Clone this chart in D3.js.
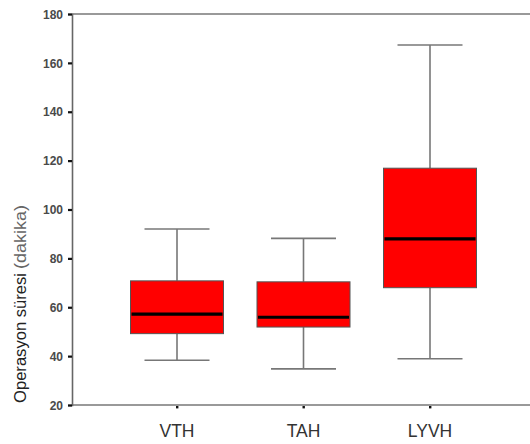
<!DOCTYPE html>
<html><head><meta charset="utf-8">
<script src="https://cdn.jsdelivr.net/npm/d3@7/dist/d3.min.js"></script>
<style>body{margin:0;background:#fff}svg{display:block}</style>
</head><body>
<script>
const categories = ["VTH","TAH","LYVH"];
const mins    = [38.3, 34.8, 38.9];
const q1s     = [49.2, 51.9, 68.0];
const medians = [57.2, 55.9, 88.0];
const q3s     = [70.8, 70.4, 116.9];
const maxs    = [92.0, 88.2, 167.3];
const yTicks  = [20,40,60,80,100,120,140,160,180];

const W = 530, H = 444;
const svg = d3.select("body").append("svg").attr("width", W).attr("height", H);

const y = d3.scaleLinear().domain([20,180]).range([405,14]);
const x = d3.scalePoint().domain(categories).range([177,430]);
const left = 72, right = 530;
const boxW = 93, capW = 65;

// frame lines
svg.append("line").attr("x1",left).attr("x2",right).attr("y1",y(180)).attr("y2",y(180))
  .attr("stroke","#777").attr("stroke-width",1.6);
svg.append("line").attr("x1",left).attr("x2",right).attr("y1",y(20)).attr("y2",y(20))
  .attr("stroke","#777").attr("stroke-width",1.6);

// y axis
const ya = svg.append("g").attr("transform",`translate(${left},0)`)
  .call(d3.axisLeft(y).tickValues(yTicks).tickSize(4).tickPadding(5).tickFormat(d3.format("d")));
ya.select(".domain").attr("stroke","#666").attr("stroke-width",1.6);
ya.selectAll(".tick line").attr("stroke","#111").attr("stroke-width",2.2);
ya.selectAll(".tick text").attr("fill","#4a4a4a").attr("font-family","Liberation Sans, Arial, sans-serif")
  .attr("font-size",12).attr("font-weight","bold").attr("dy","0.35em");

// x ticks (dots) and labels
const data = categories.map((c,i)=>({c,min:mins[i],q1:q1s[i],med:medians[i],q3:q3s[i],max:maxs[i]}));
svg.selectAll(".xdot").data(data).enter().append("rect")
  .attr("x",d=>x(d.c)-1).attr("y",y(20)+1).attr("width",2.4).attr("height",2.4).attr("fill","#111");
svg.selectAll(".xlab").data(data).enter().append("text")
  .attr("x",d=>x(d.c)).attr("y",437).attr("text-anchor","middle")
  .attr("font-family","Liberation Sans, Arial, sans-serif").attr("font-size",17.5).attr("fill","#333")
  .text(d=>d.c);

// boxes
const g = svg.selectAll(".box").data(data).enter().append("g");
g.append("line").attr("x1",d=>x(d.c)).attr("x2",d=>x(d.c)).attr("y1",d=>y(d.max)).attr("y2",d=>y(d.q3))
  .attr("stroke","#777").attr("stroke-width",1.6);
g.append("line").attr("x1",d=>x(d.c)).attr("x2",d=>x(d.c)).attr("y1",d=>y(d.q1)).attr("y2",d=>y(d.min))
  .attr("stroke","#777").attr("stroke-width",1.6);
g.append("line").attr("x1",d=>x(d.c)-capW/2).attr("x2",d=>x(d.c)+capW/2).attr("y1",d=>y(d.max)).attr("y2",d=>y(d.max))
  .attr("stroke","#777").attr("stroke-width",1.6);
g.append("line").attr("x1",d=>x(d.c)-capW/2).attr("x2",d=>x(d.c)+capW/2).attr("y1",d=>y(d.min)).attr("y2",d=>y(d.min))
  .attr("stroke","#777").attr("stroke-width",1.6);
g.append("rect").attr("x",d=>x(d.c)-boxW/2).attr("width",boxW)
  .attr("y",d=>y(d.q3)).attr("height",d=>y(d.q1)-y(d.q3))
  .attr("fill","#ff0000").attr("stroke","#555").attr("stroke-width",1);
g.append("line").attr("x1",d=>x(d.c)-boxW/2+1).attr("x2",d=>x(d.c)+boxW/2-1).attr("y1",d=>y(d.med)).attr("y2",d=>y(d.med))
  .attr("stroke","#000").attr("stroke-width",3.2);

// y title
const t = svg.append("g").attr("transform","translate(25.5,403) rotate(-90)");
t.append("text").attr("x",0).attr("y",0).attr("font-family","Liberation Sans, Arial, sans-serif")
  .attr("font-size",16.5).attr("fill","#222").attr("textLength",130).attr("lengthAdjust","spacingAndGlyphs")
  .text("Operasyon süresi");
t.append("text").attr("x",134).attr("y",0).attr("font-family","Liberation Sans, Arial, sans-serif")
  .attr("font-size",16).attr("fill","#666").attr("font-weight",300).attr("textLength",64).attr("lengthAdjust","spacingAndGlyphs")
  .text("(dakika)");
</script>
</body></html>
